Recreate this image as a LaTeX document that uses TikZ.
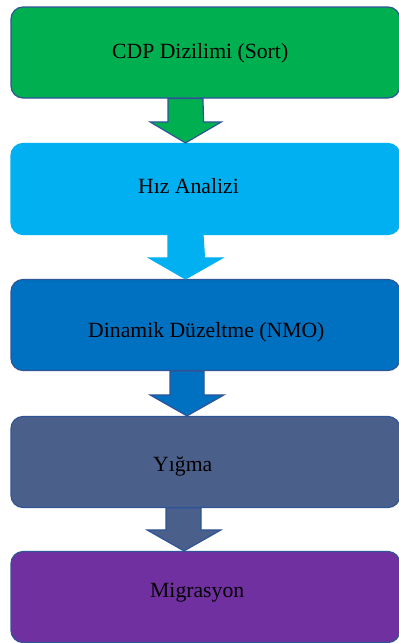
\documentclass[tikz,border=0pt]{standalone}
\usepackage{fontspec}
\setmainfont{Liberation Serif}
\usepackage{tikz}
\usetikzlibrary{calc}

\definecolor{sortgreen}{HTML}{00B050}
\definecolor{velblue}{HTML}{00B0F0}
\definecolor{nmoblue}{HTML}{0070C0}
\definecolor{stackslate}{HTML}{4B5F8B}
\definecolor{migpurple}{HTML}{7030A0}
\definecolor{edgeblue}{HTML}{2F5597}

\tikzset{
	stepbox/.style={shape=rectangle, rounded corners=12pt, draw=edgeblue, line width=1.2pt, minimum width=389pt, minimum height=91pt, inner sep=0},
	steptext/.style={anchor=base west, inner sep=0, font=\fontsize{21.7}{26}\selectfont},
	blockarrow/.style={draw=edgeblue, line width=1.2pt, line join=miter}
}

\begin{document}
\begin{tikzpicture}[x=1pt, y=-1pt]
	\useasboundingbox (0, 0) rectangle (399, 643);
	% Boxes:
	\node[stepbox, fill=sortgreen] (cdp) at (205.5, 52.5){};
	\node[stepbox, fill=velblue, draw=velblue] (hiz) at (205.5, 189){};
	\node[stepbox, fill=nmoblue] (nmo) at (205.5, 325){};
	\node[stepbox, fill=stackslate] (yigma) at (205.5, 462){};
	\node[stepbox, fill=migpurple] (mig) at (205.5, 597){};
	% Texts:
	\node[steptext] (cdptext) at (112, 58){CDP Dizilimi (Sort)};
	\node[steptext] (hiztext) at (138, 193){Hız Analizi};
	\node[steptext] (nmotext) at (88, 337){Dinamik Düzeltme (NMO)};
	\node[steptext] (yigmatext) at (153, 471){Yığma};
	\node[steptext] (migtext) at (150, 597){Migrasyon};
	% Arrows:
	\draw[blockarrow, fill=sortgreen] ($(cdp.south)+(-37.5,0)$) -- ($(hiz.north)+(-37.5,-21)$) -- ++(-18,0) -- ($(hiz.north)+(-20,0)$) -- ++(36,-21) -- ++(-18,0) -- ($(cdp.south)+(-2.5,0)$) -- cycle;
	\draw[blockarrow, fill=velblue, draw=velblue] ($(hiz.south)+(-37.5,0)$) -- ($(nmo.north)+(-37.5,-21)$) -- ++(-19,0) -- ($(nmo.north)+(-20,0)$) -- ++(37,-21) -- ++(-18,0) -- ($(hiz.south)+(-2.5,0)$) -- cycle;
	\draw[blockarrow, fill=nmoblue] ($(nmo.south)+(-35.5,0)$) -- ($(yigma.north)+(-35.5,-21)$) -- ++(-20,0) -- ($(yigma.north)+(-18.5,0)$) -- ++(37,-21) -- ++(-20,0) -- ($(nmo.south)+(-1.5,0)$) -- cycle;
	\draw[blockarrow, fill=stackslate] ($(yigma.south)+(-39.5,0)$) -- ($(mig.north)+(-39.5,-21)$) -- ++(-19,0) -- ($(mig.north)+(-21.5,0)$) -- ++(37,-21) -- ++(-20,0) -- ($(yigma.south)+(-4.5,0)$) -- cycle;
\end{tikzpicture}
\end{document}
